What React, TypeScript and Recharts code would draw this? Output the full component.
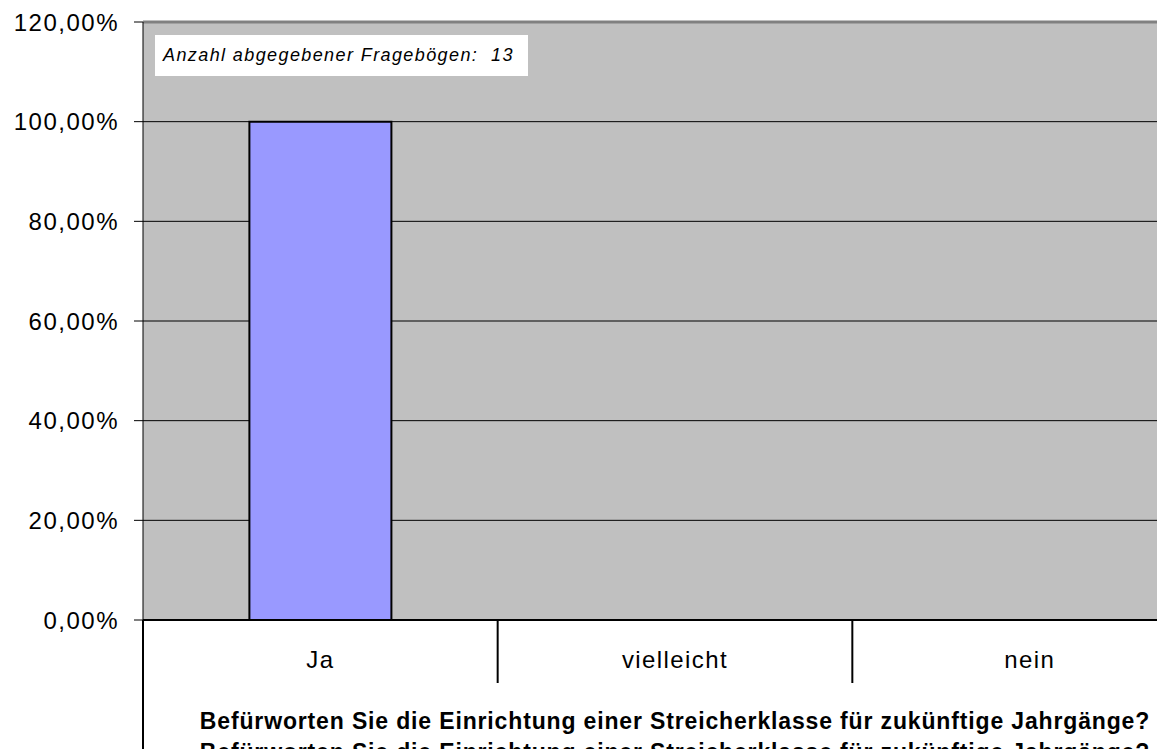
import React from 'react';
import { BarChart, Bar, XAxis, YAxis, CartesianGrid, ReferenceLine } from 'recharts';

// Antworten und Anteile (1 = 100 %)
const categories = ['Ja', 'vielleicht', 'nein'];
const shares = [1.0, 0, 0];
const yTicks = [0, 0.2, 0.4, 0.6, 0.8, 1.0, 1.2];

const question = 'Befürworten Sie die Einrichtung einer Streicherklasse für zukünftige Jahrgänge?';
const note = 'Anzahl abgegebener Fragebögen:\u00a0\u00a013';

const chartData = categories.map((answer, i) => ({ answer, share: shares[i] }));

const FONT = '"Liberation Sans", Arial, sans-serif';

const formatPercent = (v: number) => (v * 100).toFixed(2).replace('.', ',') + '%';

// Kategorie-Label plus Trennstrich an der linken Kante jeder Kategorie
const CategoryTick = (props: any) => {
  const { x, y, payload, index } = props;
  const half = payload && payload.offset ? payload.offset : 0;
  const left = x - half;
  return (
    <g>
      <line x1={left} y1={y} x2={left} y2={index === 0 ? y + 160 : y + 63} stroke="#000" strokeWidth={2} />
      <text x={x} y={y + 48} textAnchor="middle" fill="#000" fontSize={24} letterSpacing={1.4} fontFamily={FONT}>
        {payload.value}
      </text>
    </g>
  );
};

const titleStyle: React.CSSProperties = {
  position: 'absolute', left: 143, width: 1064, textAlign: 'center',
  fontFamily: FONT, fontSize: 23, fontWeight: 'bold', letterSpacing: 0.85,
  lineHeight: '30px', whiteSpace: 'nowrap', color: '#000',
};

export default function App() {
  return (
    <div style={{ position: 'absolute', left: 0, top: 0, width: 1157, height: 749, overflow: 'hidden', background: '#fff' }}>
      <BarChart
        width={1220}
        height={780}
        data={chartData}
        margin={{ top: 22, right: 13, left: 0, bottom: 0 }}
        barCategoryGap="30%"
      >
        <CartesianGrid vertical={false} stroke="#000" fill="#C0C0C0" />
        <XAxis
          dataKey="answer"
          height={160}
          tickSize={0}
          tickMargin={0}
          tick={<CategoryTick />}
          axisLine={{ stroke: '#000', strokeWidth: 2 }}
          interval={0}
        />
        <YAxis
          width={143}
          domain={[0, 1.2]}
          ticks={yTicks}
          tickFormatter={formatPercent}
          tickSize={9}
          tickMargin={15}
          tickLine={{ stroke: '#000' }}
          axisLine={{ stroke: '#000' }}
          tick={{ fill: '#000', fontSize: 24, fontFamily: FONT, letterSpacing: 1.5 }}
        />
        <ReferenceLine y={1.2} stroke="#808080" strokeWidth={3} />
        <Bar dataKey="share" fill="#9999FF" stroke="#000" strokeWidth={2} isAnimationActive={false} />
      </BarChart>
      <div
        style={{
          position: 'absolute', left: 155, top: 35, width: 373, height: 41, background: '#fff',
          fontFamily: FONT, fontStyle: 'italic', fontSize: 18, letterSpacing: 1.4, lineHeight: '41px',
          paddingLeft: 8, boxSizing: 'border-box', whiteSpace: 'nowrap', color: '#000',
        }}
      >
        {note}
      </div>
      <div style={{ ...titleStyle, top: 706 }}>{question}</div>
      <div style={{ ...titleStyle, top: 737 }}>{question}</div>
    </div>
  );
}
